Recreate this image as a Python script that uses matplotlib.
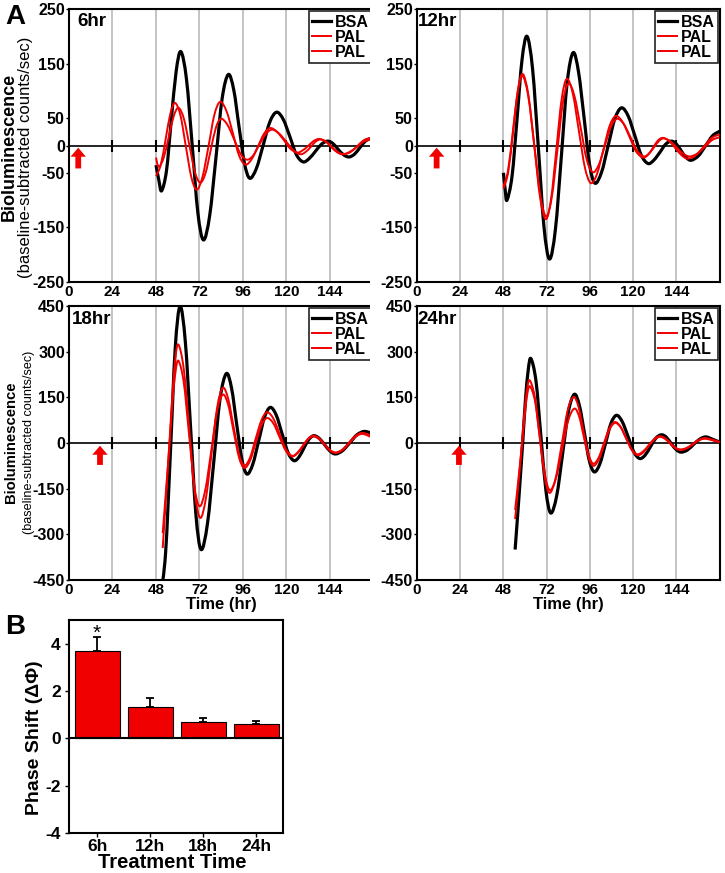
import matplotlib
matplotlib.use("Agg")
import matplotlib.pyplot as plt
from matplotlib.patches import Rectangle, PathPatch
from matplotlib.path import Path
from matplotlib.lines import Line2D

plt.rcParams['font.family'] = ['Liberation Sans', 'DejaVu Sans']
plt.rcParams['font.weight'] = 'bold'
plt.rcParams['axes.unicode_minus'] = False

RED = '#f00000'
GRID_GREY = '#b4b4b4'
W, H = 725, 873

# ---- panel A data (hours, baseline-subtracted counts/sec) ----
gridHours = [24, 48, 72, 96, 120, 144]
xTicks = [0, 24, 48, 72, 96, 120, 144]
yTicksTop = [-250, -150, -50, 0, 50, 150, 250]
yTicksBottom = [-450, -300, -150, 0, 150, 300, 450]

# 6hr
t6Bsa = [48, 49.6, 51.1, 53.8, 56.4, 59.1, 61.7, 64.8, 68.0, 71.1, 74.2, 77.6, 81.1, 84.5, 87.9, 90.9, 93.8, 96.8, 99.7,
         103.4, 107.1, 110.8, 114.5, 118.2, 121.9, 125.5, 129.2, 132.5, 135.9, 139.2, 142.5, 145.5, 148.5, 151.5, 154.5,
         157.5, 160.5, 163.5, 166.5]
v6Bsa = [-36, -64, -83, -46, 45, 135, 172, 122, 0, -123, -173, -129, -22, 86, 130, 102, 35, -32, -60,
         -42, 0, 43, 61, 48, 16, -17, -30, -24, -11, 2, 8, 4, -7, -17, -21,
         -16, -4, 8, 13]
t6PalA = [48, 50.6, 53.3, 55.9, 58.5, 61.5, 64.5, 67.5, 70.5, 73.7, 77.0, 80.2, 83.4, 86.9, 90.4, 93.8, 97.3, 100.8,
          104.2, 107.7, 111.1, 114.8, 118.5, 122.2, 125.9, 128.9, 131.9, 134.9, 137.9, 141.4, 144.8, 148.3, 151.7,
          155.4, 159.1, 162.8, 166.5]
v6PalA = [-56, -36, 11, 58, 78, 55, -2, -58, -81, -57, -1, 56, 80, 63, 23, -18, -35, -25,
          -2, 22, 32, 25, 10, -6, -13, -9, -1, 8, 12, 8, -2, -12, -16,
          -12, -1, 10, 14]
t6PalB = [48, 49.5, 52.2, 55.0, 57.7, 60.4, 63.4, 66.4, 69.4, 72.4, 75.3, 78.1, 81.0, 83.8, 87.4, 91.0, 94.6, 98.2,
          101.7, 105.1, 108.6, 112.0, 115.9, 119.9, 123.8, 127.7, 130.5, 133.3, 136.0, 138.8, 141.8, 144.8, 147.8,
          150.8, 154.7, 158.7, 162.6, 166.5]
v6PalB = [-22, -39, -23, 15, 53, 69, 49, 1, -48, -68, -51, -10, 32, 49, 38, 12, -15, -26,
          -18, 2, 21, 29, 22, 7, -9, -16, -12, -3, 7, 11, 7, -3, -12,
          -16, -12, -3, 7, 11]

# 12hr
t12Bsa = [48, 49, 50, 52.8, 55.6, 58.3, 61.1, 64.2, 67.4, 70.5, 73.6, 76.9, 80.2, 83.4, 86.7, 89.7, 92.8, 95.8, 98.8,
          102.5, 106.2, 109.9, 113.6, 117.3, 121.0, 124.6, 128.3, 131.5, 134.8, 138.0, 141.2, 144.0, 146.8, 149.5,
          152.3, 156.3, 160.2, 164.2, 168.1]
v12Bsa = [-50, -82, -100, -56, 50, 156, 200, 140, -4, -148, -208, -153, -19, 115, 170, 135, 51, -34, -69,
          -49, 0, 49, 69, 54, 18, -18, -33, -27, -13, 2, 8, 3, -10, -22,
          -27, -19, -1, 18, 26]
t12PalA = [48, 50.7, 53.4, 56.0, 58.7, 61.9, 65.2, 68.4, 71.6, 74.5, 77.4, 80.3, 83.2, 86.6, 89.9, 93.3, 96.6, 100.1,
           103.5, 107.0, 110.4, 114.2, 118.0, 121.7, 125.5, 128.3, 131.1, 133.8, 136.6, 140.1, 143.5, 147.0, 150.4,
           154.8, 159.3, 163.7, 168.1]
v12PalA = [-79, -48, 26, 100, 131, 92, -2, -96, -135, -97, -7, 84, 122, 94, 27, -41, -69, -51,
           -8, 36, 54, 43, 16, -11, -22, -17, -4, 9, 14, 8, -5, -18, -24,
           -18, -2, 14, 20]
t12PalB = [48, 50.6, 53.3, 55.9, 58.5, 61.8, 65.2, 68.5, 71.8, 74.9, 78.0, 81.0, 84.1, 87.5, 90.9, 94.2, 97.6, 101.0,
           104.4, 107.8, 111.2, 114.9, 118.6, 122.3, 126.0, 128.8, 131.5, 134.3, 137.0, 140.6, 144.3, 147.9, 151.5,
           155.6, 159.8, 163.9, 168.0]
v12PalB = [-75, -45, 27, 98, 128, 90, -1, -92, -130, -94, -8, 78, 114, 90, 33, -25, -49, -35,
           0, 35, 49, 39, 15, -10, -20, -15, -4, 8, 13, 8, -4, -15, -20,
           -15, -3, 10, 15]

# 18hr
t18Bsa = [50.6, 53.3, 56.0, 58.6, 61.3, 64.2, 67.1, 70.0, 72.9, 76.4, 79.9, 83.3, 86.8, 89.7, 92.5, 95.4, 98.2,
          101.4, 104.7, 107.9, 111.1, 114.4, 117.6, 120.9, 124.1, 126.9, 129.6, 132.4, 135.1, 138.1, 141.1, 144.1,
          147.1, 151.0, 155.0, 158.9, 162.8, 166.5]
v18Bsa = [-500, -361, -26, 310, 449, 332, 50, -233, -350, -265, -61, 143, 228, 180, 63, -54, -102,
          -70, 8, 85, 117, 91, 30, -32, -58, -46, -17, 12, 24, 15, -6, -27,
          -36, -25, 1, 27, 38, 33]
t18PalA = [51.7, 53.5, 55.4, 57.1, 58.7, 60.4, 63.4, 66.4, 69.4, 72.4, 75.5, 78.7, 81.8, 84.9, 87.9, 90.8, 93.8, 96.7,
           99.9, 103.0, 106.2, 109.3, 112.8, 116.2, 119.7, 123.1, 126.0, 129.0, 131.9, 134.8, 137.9, 141.0, 144.0,
           147.1, 150.8, 154.5, 158.2, 161.9, 166.5]
v18PalA = [-345, -180, 0, 161, 280, 323, 240, 39, -163, -246, -183, -33, 118, 181, 144, 54, -37, -74,
           -48, 14, 75, 101, 80, 30, -21, -42, -32, -9, 14, 24, 16, -4, -23,
           -31, -22, 1, 24, 33, 25]
t18PalB = [51.7, 53.6, 55.5, 57.1, 58.8, 60.4, 63.3, 66.2, 69.1, 72.0, 75.2, 78.5, 81.7, 84.9, 87.9, 90.8, 93.8, 96.7,
           99.9, 103.0, 106.2, 109.3, 112.8, 116.2, 119.7, 123.1, 126.0, 129.0, 131.9, 134.8, 137.9, 141.0, 144.0,
           147.1, 150.8, 154.5, 158.2, 161.9, 166.5]
v18PalB = [-296, -150, 0, 135, 235, 270, 200, 31, -138, -208, -154, -25, 105, 159, 124, 39, -47, -82,
           -58, 0, 58, 82, 64, 19, -26, -44, -34, -11, 12, 22, 14, -6, -25,
           -33, -24, -2, 21, 30, 20]

# 24hr
t24Bsa = [54.5, 56.6, 58.7, 60.2, 61.8, 63.3, 66.1, 68.8, 71.6, 74.3, 77.6, 80.9, 84.1, 87.4, 90.2, 93.0, 95.7, 98.5,
          101.6, 104.7, 107.7, 110.8, 114.0, 117.3, 120.5, 123.7, 126.7, 129.7, 132.7, 135.7, 138.5, 141.2, 144.0,
          146.7, 150.2, 153.6, 157.1, 160.5, 164.3, 168.1]
v24Bsa = [-350, -180, 0, 139, 241, 277, 203, 24, -156, -230, -173, -35, 103, 160, 123, 33, -58, -95,
          -68, -2, 64, 91, 70, 20, -30, -51, -40, -12, 16, 27, 19, -2, -22,
          -30, -23, -5, 13, 20, 12, 3]
t24PalA = [54.5, 56.4, 58.3, 59.7, 61.2, 62.6, 65.4, 68.1, 70.9, 73.6, 76.9, 80.3, 83.6, 86.9, 89.7, 92.4, 95.2, 97.9,
           100.9, 103.9, 106.9, 109.9, 113.0, 116.2, 119.3, 122.4, 125.5, 128.6, 131.7, 134.8, 137.7, 140.6, 143.5,
           146.4, 149.8, 153.2, 156.6, 160.0, 164.0, 168.0]
v24PalA = [-250, -130, 0, 103, 179, 206, 152, 21, -110, -164, -118, -7, 105, 151, 119, 42, -36, -68,
           -48, 1, 49, 69, 54, 16, -22, -37, -28, -8, 13, 22, 16, 1, -15,
           -21, -16, -3, 11, 16, 11, 4]
t24PalB = [54.5, 56.4, 58.4, 59.9, 61.3, 62.8, 65.6, 68.3, 71.1, 73.8, 77.2, 80.6, 84.0, 87.4, 90.1, 92.7, 95.4, 98.0,
           101.0, 104.0, 107.0, 110.0, 113.2, 116.3, 119.5, 122.6, 125.7, 128.7, 131.8, 134.8, 137.7, 140.6, 143.5,
           146.4, 149.8, 153.2, 156.6, 160.0, 164.0, 168.0]
v24PalB = [-220, -115, 0, 93, 162, 186, 136, 16, -105, -155, -116, -21, 74, 113, 86, 19, -48, -75,
           -54, -5, 45, 66, 51, 13, -25, -40, -31, -10, 11, 20, 14, -2, -17,
           -23, -18, -5, 9, 14, 9, 2]

panelTitles = ["6hr", "12hr", "18hr", "24hr"]
treatmentArrowX = [5.1, 10.9, 17.1, 23.3]

# ---- panel B data ----
treatmentLabels = ["6h", "12h", "18h", "24h"]
phaseShift = [3.68, 1.32, 0.69, 0.62]
phaseErr = [0.59, 0.38, 0.16, 0.10]


def box(x0, y0, x1, y1):
    return [x0 / W, 1 - y1 / H, (x1 - x0) / W, (y1 - y0) / H]


def smoothPath(ts, vs):
    # cubic bezier segments through the read points (drawn in data coords)
    pts = list(zip(ts, vs))
    n = len(pts)
    verts = [pts[0]]
    codes = [Path.MOVETO]
    for i in range(n - 1):
        p0 = pts[max(i - 1, 0)]
        p1 = pts[i]
        p2 = pts[i + 1]
        p3 = pts[min(i + 2, n - 1)]
        c1 = (p1[0] + (p2[0] - p0[0]) / 6, p1[1] + (p2[1] - p0[1]) / 6)
        c2 = (p2[0] - (p3[0] - p1[0]) / 6, p2[1] - (p3[1] - p1[1]) / 6)
        verts += [c1, c2, p2]
        codes += [Path.CURVE4] * 3
    return Path(verts, codes)


def drawCurve(ax, ts, vs, color, lw, z):
    ax.add_patch(PathPatch(smoothPath(ts, vs), fill=False, edgecolor=color, lw=lw, zorder=z,
                           joinstyle='round', capstyle='butt'))


def drawPanel(ax, curves, yTicks, title, titleX, arrowX, arrowSpan):
    ax.set_xlim(0, 168.3)
    ax.set_ylim(yTicks[0], yTicks[-1])
    for h in gridHours:
        ax.axvline(h, color=GRID_GREY, lw=1.1, zorder=1)
    ax.axhline(0, color='black', lw=1.2, zorder=2)
    ax.plot(gridHours, [0] * len(gridHours), ls='none', marker='|', ms=8, mew=1.5, color='black', zorder=2)
    (tb, vb), (ta, va), (tc, vc) = curves
    drawCurve(ax, tb, vb, 'black', 2.3, 4)
    drawCurve(ax, ta, va, RED, 1.4, 5)
    drawCurve(ax, tc, vc, RED, 1.4, 5)
    ax.annotate("", xy=(arrowX, arrowSpan[1]), xytext=(arrowX, arrowSpan[0]),
                arrowprops=dict(arrowstyle="simple,head_length=0.5,head_width=0.85,tail_width=0.32",
                                color=RED, lw=0, mutation_scale=13, shrinkA=0, shrinkB=0), zorder=6)
    ax.text(titleX, 0.936, title, transform=ax.transAxes, ha='left', va='baseline', fontsize=13.5)
    ax.set_xticks(xTicks)
    ax.set_yticks(yTicks)
    ax.tick_params(axis='x', length=0, pad=2.5, labelsize=11)
    ax.tick_params(axis='y', length=2, width=1.0, pad=1, labelsize=11.5)
    for s in ax.spines.values():
        s.set_linewidth(1.5)
    handles = [Line2D([], [], color='black', lw=2.3), Line2D([], [], color=RED, lw=1.4),
               Line2D([], [], color=RED, lw=1.4)]
    leg = ax.legend(handles, ["BSA", "PAL", "PAL"], loc='upper right', prop={'weight': 'bold', 'size': 11.5},
                    fancybox=False, edgecolor='#222222', framealpha=1, borderpad=0.2, labelspacing=0.0,
                    handlelength=1.2, handletextpad=0.2, borderaxespad=0.15)
    leg.get_frame().set_linewidth(1.2)
    leg.set_zorder(8)


def main():
    fig = plt.figure(figsize=(W / 100, H / 100), dpi=100)

    axTL = fig.add_axes(box(69, 9, 374, 282), zorder=0)
    axTR = fig.add_axes(box(417, 9, 720, 282), zorder=2)
    axBL = fig.add_axes(box(69, 306, 374, 580), zorder=0)
    axBR = fig.add_axes(box(417, 306, 720, 580), zorder=2)

    drawPanel(axTL, [(t6Bsa, v6Bsa), (t6PalA, v6PalA), (t6PalB, v6PalB)], yTicksTop,
              panelTitles[0], 0.026, treatmentArrowX[0], (-42, -4))
    drawPanel(axTR, [(t12Bsa, v12Bsa), (t12PalA, v12PalA), (t12PalB, v12PalB)], yTicksTop,
              panelTitles[1], 0.004, treatmentArrowX[1], (-42, -4))
    drawPanel(axBL, [(t18Bsa, v18Bsa), (t18PalA, v18PalA), (t18PalB, v18PalB)], yTicksBottom,
              panelTitles[2], 0.01, treatmentArrowX[2], (-72, -9))
    drawPanel(axBR, [(t24Bsa, v24Bsa), (t24PalA, v24PalA), (t24PalB, v24PalB)], yTicksBottom,
              panelTitles[3], 0.0, treatmentArrowX[3], (-72, -9))

    # the right column sits over the clipped right edge of the left column
    fig.add_artist(Rectangle((370 / W, 1 - 600 / H), 46.5 / W, 600 / H, transform=fig.transFigure,
                             facecolor='white', edgecolor='none', zorder=1))

    fig.text(9 / W, 1 - 147 / H, "Bioluminescence", rotation=90, ha='center', va='center', fontsize=13)
    fig.text(26 / W, 1 - 157 / H, "(baseline-subtracted counts/sec)", rotation=90, ha='center', va='center',
             fontsize=12, fontweight='normal')
    fig.text(11 / W, 1 - 442 / H, "Bioluminescence", rotation=90, ha='center', va='center', fontsize=10.7)
    fig.text(29 / W, 1 - 442 / H, "(baseline-subtracted counts/sec)", rotation=90, ha='center', va='center',
             fontsize=9.1, fontweight='normal')
    fig.text(221 / W, 1 - 605 / H, "Time (hr)", ha='center', va='center', fontsize=12)
    fig.text(568 / W, 1 - 605 / H, "Time (hr)", ha='center', va='center', fontsize=12)
    fig.text(15 / W, 1 - 17 / H, "A", ha='center', va='center', fontsize=20)
    fig.text(15 / W, 1 - 627 / H, "B", ha='center', va='center', fontsize=20)

    # panel B
    axB = fig.add_axes(box(69, 620, 283, 833))
    pos = list(range(len(phaseShift)))
    axB.bar(pos, phaseShift, width=0.85, color=RED, edgecolor='black', lw=0.8, zorder=2)
    axB.errorbar(pos, phaseShift, yerr=[[0] * len(phaseErr), phaseErr], fmt='none', ecolor='black',
                 elinewidth=1.3, capsize=3, capthick=1.3, zorder=3)
    axB.axhline(0, color='black', lw=1.5, zorder=4)
    axB.text(pos[0], 4.45, "*", ha='center', va='center', fontsize=15, fontweight='normal')
    axB.set_xlim(-0.53, 3.5)
    axB.set_ylim(-4, 5)
    axB.set_yticks([-4, -2, 0, 2, 4])
    axB.set_xticks(pos)
    axB.set_xticklabels(treatmentLabels)
    axB.tick_params(axis='x', length=3, width=1.0, pad=1, labelsize=12.5)
    axB.tick_params(axis='y', length=3, width=1.0, pad=3, labelsize=12.5)
    for s in axB.spines.values():
        s.set_linewidth(1.5)
    fig.text(35 / W, 1 - 738 / H, "Phase Shift (\u0394\u03a6)", rotation=90, ha='center', va='center', fontsize=14)
    fig.text(172 / W, 1 - 862 / H, "Treatment Time", ha='center', va='center', fontsize=14.5)

    fig.savefig("out.png", dpi=100)


if __name__ == "__main__":
    main()
